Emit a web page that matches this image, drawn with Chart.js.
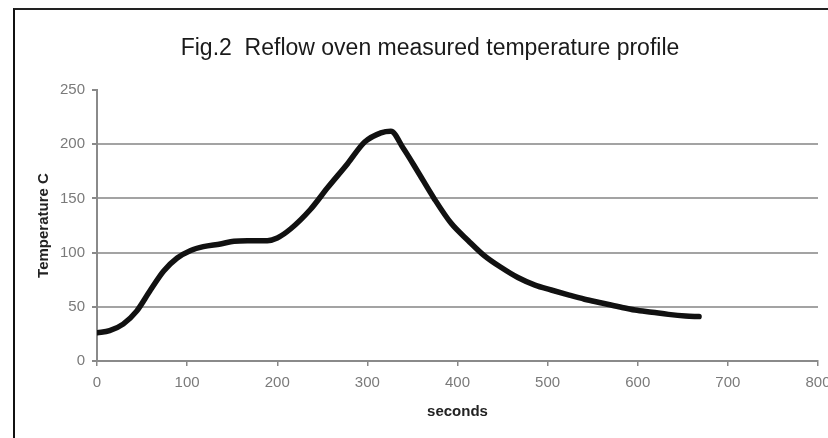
<!DOCTYPE html>
<html>
<head>
<meta charset="utf-8">
<script src="https://cdn.jsdelivr.net/npm/chart.js@4.4.1/dist/chart.umd.min.js"></script>
<style>
  html, body { margin: 0; padding: 0; background: #fff; }
  #wrap { position: relative; width: 828px; height: 438px; overflow: hidden; background: #fff; }
  #c { position: absolute; left: 0; top: 0; }
  #frame { position: absolute; left: 13px; top: 8px; width: 830px; height: 440px;
           border-top: 2px solid #222; border-left: 2px solid #111; pointer-events: none; }
  #title { position: absolute; top: 32px; left: 0; width: 860px; text-align: center;
           font-family: 'Liberation Sans', Arial, sans-serif; font-size: 23px; color: #1a1a1a;
           line-height: 30px; white-space: nowrap; }
</style>
</head>
<body>
<div id="wrap">
  <canvas id="c" width="828" height="438"></canvas>
  <div id="frame"></div>
  <div id="title">Fig.2&nbsp;&nbsp;Reflow oven measured temperature profile</div>
</div>
<script>
// Data
const seconds = [0, 14, 29, 44, 59, 74, 89, 104, 118, 137, 152, 167, 189, 200, 215, 237, 256, 278, 297, 315, 326, 340, 355, 374, 393, 412, 430, 449, 467, 486, 504, 523, 541, 560, 579, 597, 616, 634, 653, 668];
const temperature = [26, 28, 34, 46, 65, 83, 95, 102, 105.5, 108, 110.5, 111, 111, 113.5, 122, 140, 160, 182, 202, 210.5, 212, 196, 176, 150, 127, 111, 97, 86, 77, 70, 65.5, 61, 57, 53.5, 50, 47, 45, 43, 41.5, 41];
const xTicks = [0, 100, 200, 300, 400, 500, 600, 700, 800];
const yTicks = [0, 50, 100, 150, 200, 250];
const xTitle = 'seconds';
const yTitle = 'Temperature C';

const points = seconds.map((s, i) => ({ x: s, y: temperature[i] }));
const tickFont = { family: "'Liberation Sans Narrow', 'Liberation Sans', Arial, sans-serif", size: 15 };
const titleFont = { family: "'Liberation Sans', Arial, sans-serif", size: 15, weight: 'bold' };

new Chart(document.getElementById('c'), {
  type: 'line',
  data: {
    datasets: [{
      data: points,
      borderColor: '#111',
      borderWidth: 5.5,
      pointRadius: 0,
      tension: 0.4,
      cubicInterpolationMode: 'monotone',
      borderCapStyle: 'round',
      borderJoinStyle: 'round',
      fill: false
    }]
  },
  options: {
    responsive: false,
    animation: false,
    layout: { padding: { top: 90, right: 0, left: 0, bottom: 0 } },
    plugins: { legend: { display: false }, title: { display: false }, tooltip: { enabled: false } },
    scales: {
      x: {
        type: 'linear',
        min: xTicks[0],
        max: xTicks[xTicks.length - 1],
        afterBuildTicks: (s) => { s.ticks = xTicks.map(v => ({ value: v })); },
        afterFit: (s) => { s.height = 77; s.paddingRight = 10; s.paddingLeft = 0; },
        ticks: { color: '#7a7a7a', font: tickFont, padding: 8, maxRotation: 0, autoSkip: false },
        grid: { drawOnChartArea: false, drawTicks: true, tickLength: 5, tickColor: '#888', lineWidth: 1.5 },
        border: { color: '#8a8a8a', width: 2 },
        title: { display: true, text: xTitle, color: '#222', font: titleFont, padding: { top: 17, bottom: 17 } }
      },
      y: {
        min: yTicks[0],
        max: yTicks[yTicks.length - 1],
        afterBuildTicks: (s) => { s.ticks = yTicks.map(v => ({ value: v })); },
        afterFit: (s) => { s.width = 97; },
        ticks: { color: '#7a7a7a', font: tickFont, padding: 7, autoSkip: false },
        grid: {
          color: (ctx) => (ctx.tick && ctx.tick.value === 250) ? 'rgba(0,0,0,0)' : '#a3a3a3',
          lineWidth: 2, tickLength: 5, tickColor: '#888'
        },
        border: { color: '#8a8a8a', width: 2 },
        title: { display: true, text: yTitle, color: '#222', font: titleFont, padding: { top: 35, bottom: 0 } }
      }
    }
  }
});
</script>
</body>
</html>
